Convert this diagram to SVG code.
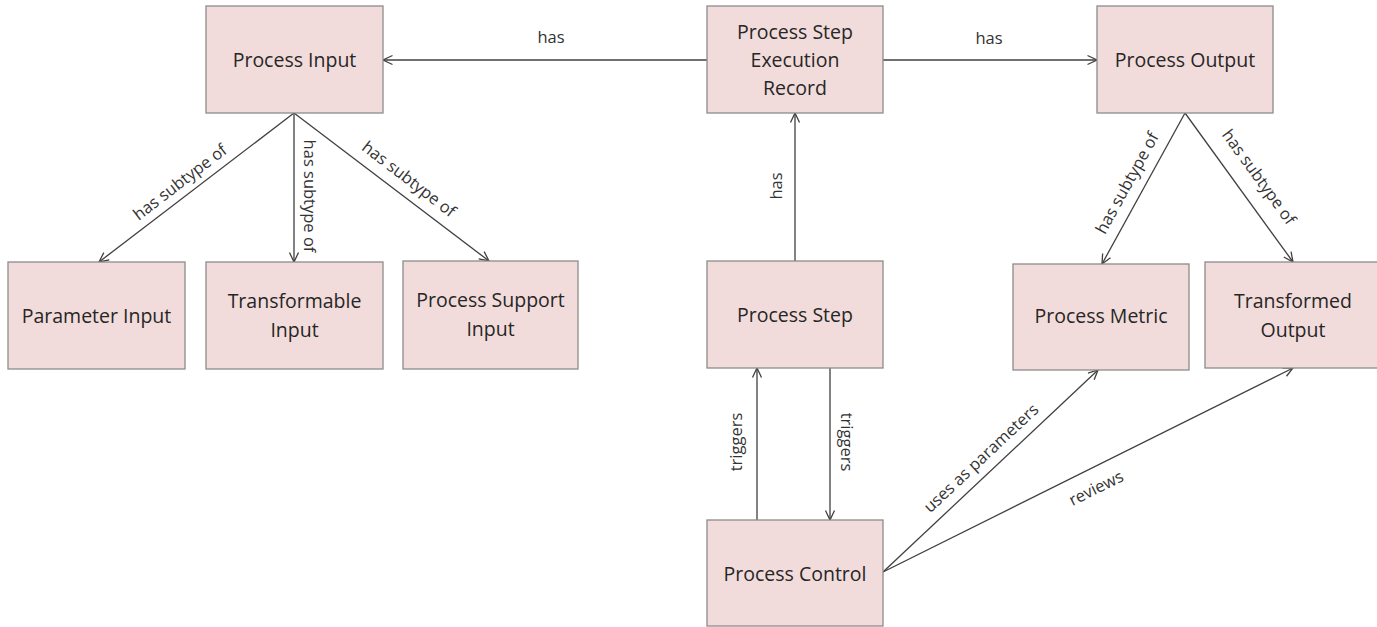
<svg xmlns="http://www.w3.org/2000/svg" width="1377" height="627" viewBox="0 0 1377 627">
<style>
  .box { fill: #f2dcdb; stroke: #8c8c8c; stroke-width: 1.3; }
  .nt { font-family: "Open Sans", "Liberation Sans", sans-serif; font-size: 19.5px; fill: #262626; text-anchor: middle; }
  .lt { font-family: "Open Sans", "Liberation Sans", sans-serif; font-size: 16.5px; fill: #333333; text-anchor: middle; }
  .edge { stroke: #404040; stroke-width: 1.3; fill: none; marker-end: url(#arr); }
</style>
<defs>
  <marker id="arr" markerUnits="userSpaceOnUse" viewBox="0 0 12 12" refX="11" refY="6" markerWidth="12" markerHeight="12" orient="auto">
    <path d="M1.5,1.5 L11,6 L1.5,10.5" fill="none" stroke="#404040" stroke-width="1.3"/>
  </marker>
</defs>
<rect width="1377" height="627" fill="#ffffff"/>

<g id="connectors">
  <line class="edge" x1="707" y1="60" x2="383" y2="60"/>
  <line class="edge" x1="883" y1="60" x2="1097" y2="60"/>
  <line class="edge" x1="294" y1="113" x2="99" y2="262"/>
  <line class="edge" x1="294" y1="113" x2="294" y2="262"/>
  <line class="edge" x1="294" y1="113" x2="489" y2="261"/>
  <line class="edge" x1="795" y1="261" x2="795" y2="113"/>
  <line class="edge" x1="1185" y1="113" x2="1102" y2="264"/>
  <line class="edge" x1="1185" y1="113" x2="1293" y2="262"/>
  <line class="edge" x1="757" y1="520" x2="757" y2="368"/>
  <line class="edge" x1="830" y1="368" x2="830" y2="520"/>
  <line class="edge" x1="883" y1="572" x2="1098" y2="370"/>
  <line class="edge" x1="883" y1="572" x2="1293" y2="368"/>

  <text class="lt" x="551" y="43">has</text>
  <text class="lt" x="989" y="44">has</text>
  <text class="lt" transform="translate(180,182) rotate(-37.5)" dy=".35em">has subtype of</text>
  <text class="lt" transform="translate(310,196) rotate(90)" dy=".35em">has subtype of</text>
  <text class="lt" transform="translate(409,179) rotate(37.5)" dy=".35em">has subtype of</text>
  <text class="lt" transform="translate(776,186) rotate(-90)" dy=".35em">has</text>
  <text class="lt" transform="translate(1127,183) rotate(-61.2)" dy=".35em">has subtype of</text>
  <text class="lt" transform="translate(1259,177) rotate(54)" dy=".35em">has subtype of</text>
  <text class="lt" transform="translate(736,442) rotate(-90)" dy=".35em">triggers</text>
  <text class="lt" transform="translate(847,442) rotate(90)" dy=".35em">triggers</text>
  <text class="lt" transform="translate(981,458) rotate(-43.2)" dy=".35em">uses as parameters</text>
  <text class="lt" transform="translate(1096,488) rotate(-26.5)" dy=".35em">reviews</text>
</g>

<g id="process-input">
  <rect class="box" x="206" y="6" width="177" height="107"/>
  <text class="nt" x="294.5" y="67">Process Input</text>
</g>
<g id="parameter-input">
  <rect class="box" x="8" y="262" width="177" height="107"/>
  <text class="nt" x="96.5" y="323">Parameter Input</text>
</g>
<g id="transformable-input">
  <rect class="box" x="206" y="262" width="177" height="107"/>
  <text class="nt" x="294.5" y="308">Transformable</text>
  <text class="nt" x="294.5" y="337">Input</text>
</g>
<g id="process-support-input">
  <rect class="box" x="403" y="261" width="175" height="108"/>
  <text class="nt" x="490.5" y="307">Process Support</text>
  <text class="nt" x="490.5" y="336">Input</text>
</g>
<g id="process-step-execution-record">
  <rect class="box" x="707" y="6" width="176" height="107"/>
  <text class="nt" x="795" y="39">Process Step</text>
  <text class="nt" x="795" y="67">Execution</text>
  <text class="nt" x="795" y="95">Record</text>
</g>
<g id="process-output">
  <rect class="box" x="1097" y="6" width="176" height="107"/>
  <text class="nt" x="1185" y="67">Process Output</text>
</g>
<g id="process-step">
  <rect class="box" x="707" y="261" width="176" height="107"/>
  <text class="nt" x="795" y="322">Process Step</text>
</g>
<g id="process-metric">
  <rect class="box" x="1013" y="264" width="176" height="106"/>
  <text class="nt" x="1101" y="323">Process Metric</text>
</g>
<g id="transformed-output">
  <rect class="box" x="1205" y="262" width="177" height="106"/>
  <text class="nt" x="1293" y="308">Transformed</text>
  <text class="nt" x="1293" y="337">Output</text>
</g>
<g id="process-control">
  <rect class="box" x="707" y="520" width="176" height="106"/>
  <text class="nt" x="795" y="581">Process Control</text>
</g>
</svg>
